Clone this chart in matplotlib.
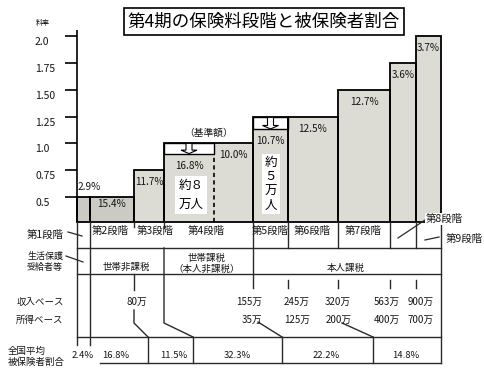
import matplotlib
matplotlib.use("Agg")
import matplotlib.pyplot as plt
from matplotlib.patches import Rectangle, Polygon
import numpy as np

plt.rcParams['font.family'] = ['Noto Sans CJK JP', 'DejaVu Sans']

# ---------------- data ----------------
title = "第4期の保険料段階と被保険者割合"
y_label = "料率"
stage_labels = ["第1段階", "第2段階", "第3段階", "第4段階", "第5段階",
                "第6段階", "第7段階", "第8段階", "第9段階"]
# bar segments (stage 4 is split into two parts)
seg_rates = [0.5, 0.5, 0.75, 1.0, 1.0, 1.25, 1.25, 1.5, 1.75, 2.0]
seg_reduced = [None, None, None, 0.9, None, 1.13, None, None, None, None]
seg_share_labels = ["2.9%", "15.4%", "11.7%", "16.8%", "10.0%", "10.7%",
                    "12.5%", "12.7%", "3.6%", "3.7%"]
seg_widths = [13, 44, 30, 50, 39, 35, 50, 52, 26, 25]
yticks = [0.5, 0.75, 1.0, 1.25, 1.5, 1.75, 2.0]
ytick_labels = ["0.5", "0.75", "1.0", "1.25", "1.50", "1.75", "2.0"]
income_labels = ["80万", "155万", "245万", "320万", "563万", "900万"]
earning_labels = ["35万", "125万", "200万", "400万", "700万"]
national_share = ["2.4%", "16.8%", "11.5%", "32.3%", "22.2%", "14.8%"]
tax_groups = ["世帯非課税", "世帯課税\n（本人非課税）", "本人課税"]
base_note = "（基準額）"
note8 = "約８\n万人"
note5 = "約\n５\n万\n人"

# ---------------- layout ----------------
W, H = 484, 378
PXU = 107.2          # pixels per rate unit
def rate_at(py):
    return 0.5 + (197 - py) / PXU

fig = plt.figure(figsize=(W / 100, H / 100), dpi=100)
fig.patch.set_facecolor("white")
ax = fig.add_axes([0, 0, 1, 1])
ax.set_xlim(0, W)
ax.set_ylim(rate_at(H), rate_at(0))
ax.axis("off")
ov = fig.add_axes([0, 0, 1, 1], facecolor="none")
ov.set_xlim(0, W)
ov.set_ylim(H, 0)
ov.axis("off")

TXT = "#151515"
LN = "#2a2a2a"
x0 = 77
edges = np.concatenate([[x0], x0 + np.cumsum(seg_widths)])
lefts = edges[:-1]
centers = lefts + np.array(seg_widths) / 2
baseline = rate_at(222)

fills = ["#cbcbc4", "#cbcbc4"] + ["#dcdcd5"] * 8

# bars (fill only)
ax.bar(lefts, np.array(seg_rates) - baseline, width=seg_widths, bottom=baseline,
       align="edge", color=fills, edgecolor="none", zorder=2)
# white reduced boxes
for i, red in enumerate(seg_reduced):
    if red is not None:
        ax.bar(lefts[i], seg_rates[i] - red, width=seg_widths[i], bottom=red,
               align="edge", color="white", edgecolor="black", linewidth=1.0, zorder=3)
        cx = centers[i]
        T = seg_rates[i]
        B = red
        d = 1 / PXU
        pts = [(cx - 3, T), (cx - 3, B + 4 * d), (cx - 8, B + 4 * d), (cx, B + 0.5 * d),
               (cx + 8, B + 4 * d), (cx + 3, B + 4 * d), (cx + 3, T)]
        ax.add_patch(Polygon(pts, closed=False, facecolor="white", edgecolor="black",
                             linewidth=0.8, zorder=4))

# outlines: stage 4 combined, others individual
groups = [[0], [1], [2], [3, 4], [5], [6], [7], [8], [9]]
for g in groups:
    l = lefts[g[0]]
    w = sum(seg_widths[k] for k in g)
    top = max(seg_rates[k] for k in g)
    ax.bar(l, top - baseline, width=w, bottom=baseline, align="edge",
           fill=False, edgecolor="black", linewidth=1.3, zorder=5)
# dashed split inside stage 4
ax.vlines(edges[4], baseline, seg_reduced[3], colors="black", linestyles=(0, (2.5, 2)),
          linewidth=1.2, zorder=5)

# share labels on bars
for i, lab in enumerate(seg_share_labels):
    top = seg_reduced[i] if seg_reduced[i] is not None else seg_rates[i]
    if i == 0:
        ax.annotate(lab, (lefts[i], top), xytext=(1, 10), textcoords="offset pixels",
                    ha="left", va="center", fontsize=7.2, color=TXT, zorder=6)
    else:
        off = -7 if i == 1 else -12
        ax.annotate(lab, (centers[i], top), xytext=(0, off), textcoords="offset pixels",
                    ha="center", va="center", fontsize=7.2, color=TXT, zorder=6)

# y axis
ax.vlines(x0, baseline, rate_at(30), colors="black", linewidth=1.2, zorder=5)
ax.hlines(yticks, x0 - 12, x0, colors="black", linewidth=1.2, zorder=5)
for v, lab in zip(yticks, ytick_labels):
    ax.annotate(lab, (35, v), xytext=(0, -6), textcoords="offset pixels",
                ha="left", va="center", fontsize=7.5, color=TXT)
ov.text(43, 23, y_label, ha="center", va="center", fontsize=5, color=TXT)

# notes in bars
ax.annotate(base_note, ((edges[3] + edges[5]) / 2, seg_rates[3]), xytext=(0, 11),
            textcoords="offset pixels", ha="center", va="center", fontsize=7, color=TXT)
ov.text(191, 195, note8, ha="center", va="center", fontsize=9, linespacing=1.55,
        color="black", zorder=7,
        bbox=dict(boxstyle="square,pad=0.25", facecolor="white", edgecolor="none"))
ov.text(271, 184, note5, ha="center", va="center", fontsize=9, linespacing=1.12,
        color="black", zorder=7,
        bbox=dict(boxstyle="square,pad=0.2", facecolor="white", edgecolor="none"))

# title
ov.add_patch(Rectangle((124, 8), 280, 27, facecolor="white", edgecolor="black", linewidth=1.2))
ov.text(264, 21.5, title, ha="center", va="center", fontsize=12.6, color="black")

# ---------------- table below ----------------
lw = 1.0
E = edges
# horizontal rows
for yy in (248, 274, 337):
    ov.plot([E[0], E[-1]], [yy, yy], color=LN, lw=lw)
ov.plot([100, E[-1]], [363, 363], color=LN, lw=lw)
# verticals
segs = [
    [(E[0], 222), (E[0], 345)],
    [(E[1], 222), (E[1], 345)],
    [(E[2], 222), (E[2], 227)],
    [(E[2], 274), (E[2], 290)],
    [(E[2], 310), (E[2], 323), (148, 337)],
    [(E[3], 222), (E[3], 228)],
    [(E[3], 248), (E[3], 323), (193, 337)],
    [(E[5], 222), (E[5], 288)],
    [(E[10], 222), (E[10], 363)],
    [(258, 322), (282, 337)],
    [(342, 323), (373, 337)],
]
for k in (6, 7, 8, 9):
    segs.append([(E[k], 222), (E[k], 248)])
    segs.append([(E[k], 280), (E[k], 288)])
for xx in (148, 193, 282, 373):
    segs.append([(xx, 337), (xx, 363)])
for s in segs:
    xs, ys = zip(*s)
    ov.plot(xs, ys, color=LN, lw=lw)

# leader lines
ov.plot([68, 82], [232, 236], color=LN, lw=0.9)
ov.plot([66, 83], [256, 262], color=LN, lw=0.9)
ov.plot([398, 419, 425], [238, 224, 220], color=LN, lw=0.9)
ov.plot([425, 439], [240, 237], color=LN, lw=0.9)

# stage labels
fs_j = 7.5
ov.text(45, 235, stage_labels[0], ha="center", va="center", fontsize=fs_j, color=TXT)
stage_x = [110, 155, 206, 270, 312, 363]
for lab, xx in zip(stage_labels[1:7], stage_x):
    ov.text(xx, 231, lab, ha="center", va="center", fontsize=fs_j, color=TXT)
ov.text(426, 219, stage_labels[7], ha="left", va="center", fontsize=fs_j, color=TXT,
        bbox=dict(boxstyle="square,pad=0.1", facecolor="white", edgecolor="none"))
ov.text(446, 239, stage_labels[8], ha="left", va="center", fontsize=fs_j, color=TXT)

# left row labels
ov.text(45, 262, "生活保護\n受給者等", ha="center", va="center", fontsize=6.5,
        linespacing=1.35, color=TXT)
ov.text(40, 302, "収入ベース", ha="center", va="center", fontsize=6.8, color=TXT)
ov.text(40, 320, "所得ベース", ha="center", va="center", fontsize=6.8, color=TXT)
ov.text(8, 351, "全国平均", ha="left", va="center", fontsize=6.8, color=TXT)
ov.text(8, 362, "被保険者割合", ha="left", va="center", fontsize=6.8, color=TXT)

# tax groups
ov.text(126, 267, tax_groups[0], ha="center", va="center", fontsize=6.8, color=TXT)
ov.text(207, 264, tax_groups[1], ha="center", va="center", fontsize=6.8,
        linespacing=1.2, color=TXT)
ov.text(346, 268, tax_groups[2], ha="center", va="center", fontsize=6.8, color=TXT)

# income / earnings
income_x = [137, 249, 297, 338, 387, 421]
for lab, xx in zip(income_labels, income_x):
    ov.text(xx, 302, lab, ha="center", va="center", fontsize=7, color=TXT,
            zorder=5)
earning_x = [252, 297, 339, 387, 421]
for lab, xx in zip(earning_labels, earning_x):
    ov.text(xx, 320, lab, ha="center", va="center", fontsize=7, color=TXT)

# national share
share_x = [83, 116, 174, 237, 326, 406]
for lab, xx in zip(national_share, share_x):
    ov.text(xx, 356, lab, ha="center", va="center", fontsize=6.8, color=TXT)

fig.savefig("out.png", dpi=100, facecolor="white")
